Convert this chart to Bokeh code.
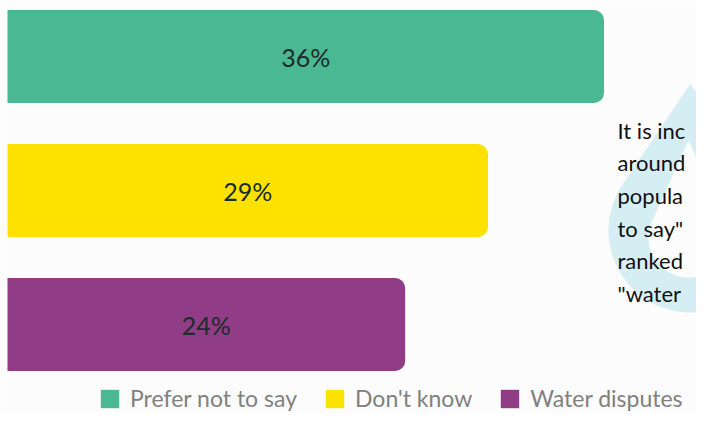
import numpy as np
from bokeh.plotting import figure
from bokeh.models import Range1d, ColumnDataSource, Legend, LegendItem
from bokeh.core.properties import value
from bokeh.embed import file_html
from bokeh.resources import INLINE

# ---- data ----
categories = ["Prefer not to say", "Don't know", "Water disputes"]
percentages = [36, 29, 24]
bar_colors = ["#4ab993", "#fde200", "#913c87"]
bar_labels = [f"{v}%" for v in percentages]
note_lines = ["It is inc", "around", "popula", "to say\"", "ranked", "\"water"]

# ---- layout constants (pixels inside the figure) ----
W, H = 696, 412
PX_PER_PCT = 16.57
X0 = 7.0             # pixel where 0 % sits
BAR_STEP = 134.0
FIRST_CENTER = 56.0
BG = "#fcfcfc"


def px_x(px):
    return (px - X0) / PX_PER_PCT


def px_y(py):
    return (py - FIRST_CENTER) / BAR_STEP


p = figure(width=W, height=H,
           x_range=Range1d(px_x(0), px_x(W)),
           y_range=Range1d(px_y(H), px_y(0)),
           x_axis_location=None, y_axis_location=None,
           output_backend="svg", toolbar_location=None, min_border=0)
p.grid.visible = False
p.outline_line_color = None
p.background_fill_color = BG
p.border_fill_color = BG

# ---- water-drop decoration behind the note ----
def drop(cx, cy, r, d, n=80):
    th = np.arccos(r / d)
    phi = np.linspace(th, 2 * np.pi - th, n)
    xs = np.concatenate([[cx], cx + r * np.sin(phi), [cx]])
    ys = np.concatenate([[cy - d], cy - r * np.cos(phi), [cy - d]])
    return [px_x(v) for v in xs], [px_y(v) for v in ys]

ox, oy = drop(690, 230, 82, 147)
ix, iy = drop(688, 237, 40, 97)
p.patch(ox, oy, fill_color="#d5eef4", line_color=None)
p.patch(ix, iy, fill_color=BG, line_color=None)

# ---- bars ----
src = ColumnDataSource(dict(
    cat=categories, pct=percentages, color=bar_colors, label=bar_labels,
    y=list(range(len(categories))),
    mid=[v / 2 for v in percentages],
))
bars = p.hbar(y="y", left=0, right="pct", height=93 / BAR_STEP, source=src,
              fill_color="color", line_color=None,
              border_radius=(0, 10, 10, 0))
p.text(x="mid", y="y", text="label", source=src,
       text_align="center", text_baseline="middle",
       text_font=value("Lato"), text_font_size="25px", text_color="#1d2b2b")

# ---- note text ----
note_y = [px_y(129.5 + 32.7 * k) for k in range(len(note_lines))]
p.text(x=[px_x(617)] * len(note_lines), y=note_y, text=note_lines,
       text_align="left", text_baseline="alphabetic",
       text_font=value("Lato"), text_font_size="22px", text_color="#111111")

# ---- legend ----
items = [LegendItem(label=c, renderers=[bars], index=i) for i, c in enumerate(categories)]
legend = Legend(items=items, orientation="horizontal", location=(98, 0),
                glyph_width=23, glyph_height=23, label_height=23,
                label_standoff=9, spacing=26, padding=0, margin=0,
                border_line_color=None, background_fill_alpha=0,
                label_text_font="Lato", label_text_font_size="23px",
                label_text_color="#808080")
p.add_layout(legend)

open("out.html", "w").write(file_html(p, INLINE))
